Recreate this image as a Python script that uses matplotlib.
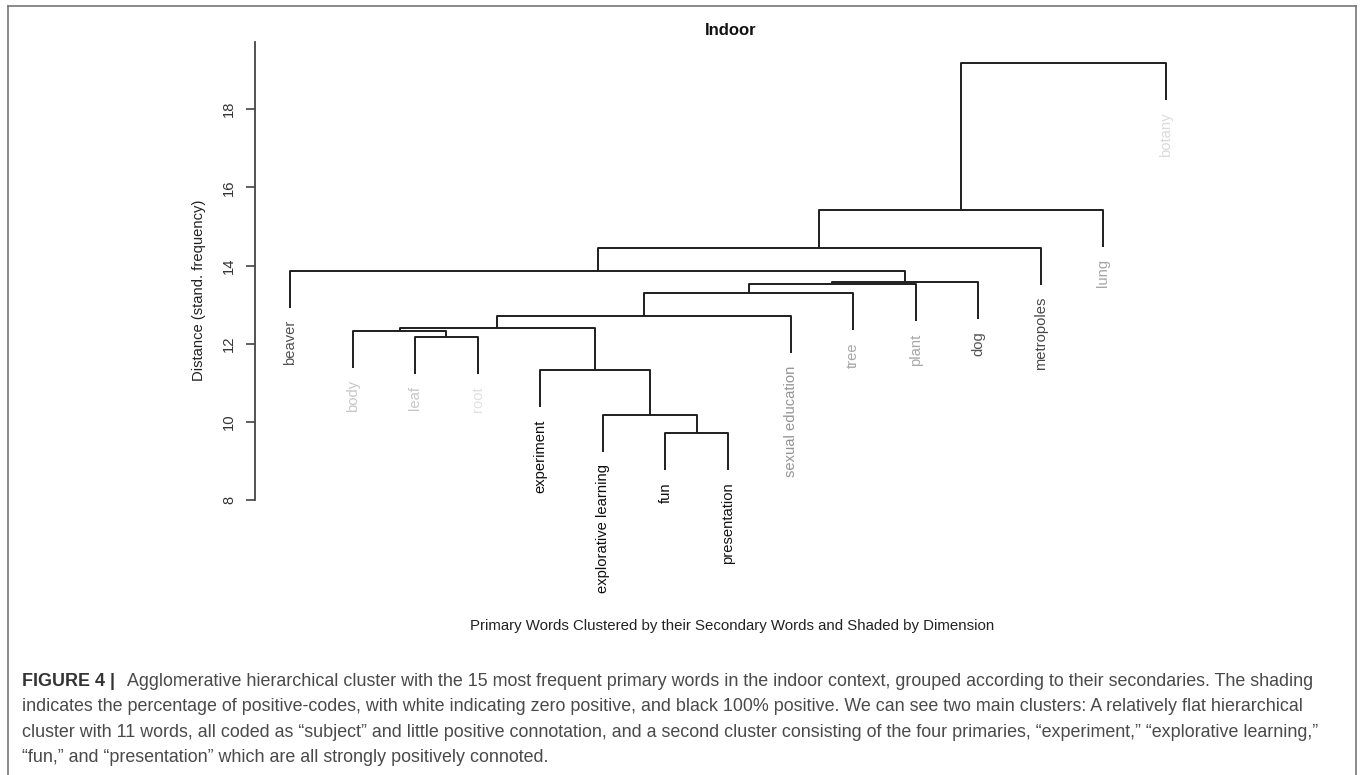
import matplotlib.pyplot as plt
from matplotlib.lines import Line2D

plt.rcParams['font.family'] = ['Liberation Sans', 'DejaVu Sans']

# Leaf words in plotting order
labels = ["beaver", "body", "leaf", "root", "experiment", "explorative learning",
          "fun", "presentation", "sexual education", "tree", "plant", "dog",
          "metropoles", "lung", "botany"]
# share of positive codes per word (0 = white, 1 = black)
positive = [0.68, 0.22, 0.22, 0.12, 0.95, 0.95, 0.95, 0.92,
            0.42, 0.35, 0.35, 0.68, 0.72, 0.35, 0.14]

# merge table, hclust style: negative = leaf number, positive = earlier merge step
merge_left = [-7, -6, -5, -3, -2, 5, 6, 7, 8, 9, -1, 11, 12, 13]
merge_right = [-8, 1, 2, -4, 4, 3, -9, -10, -11, -12, 10, -13, -14, -15]
heights = [9.71, 10.18, 11.32, 12.17, 12.33, 12.41, 12.70, 13.29,
           13.52, 13.57, 13.86, 14.45, 15.43, 19.17]

yticks = [8, 10, 12, 14, 16, 18]

W, H = 1360, 775
fig = plt.figure(figsize=(W / 100, H / 100), dpi=100)


def px(x, y):
    return x / W, 1 - y / H


# plot region in pixels: left 255, right 1201, top 42, bottom 538
ax = fig.add_axes([255 / W, (H - 538) / H, 946 / W, 496 / H])
ax.set_xlim(0.44, 15.56)
ax.set_ylim(7.03, 19.72)

hang = 0.1 * (max(heights) - min(heights))
node_x = []
for k in range(len(heights)):
    h = heights[k]
    xs, ys = [], []
    for c in (merge_left[k], merge_right[k]):
        if c < 0:
            xs.append(-c)
            ys.append(h - hang)
        else:
            xs.append(node_x[c - 1])
            ys.append(heights[c - 1])
    node_x.append((xs[0] + xs[1]) / 2)
    ax.plot([xs[0], xs[0], xs[1], xs[1]], [ys[0], h, h, ys[1]],
            color="#1e1e1e", lw=1.4, solid_capstyle="butt")

# leaf labels shaded by positive share
parent_h = {}
for k in range(len(heights)):
    for c in (merge_left[k], merge_right[k]):
        if c < 0:
            parent_h[-c] = heights[k]
for i, (lab, p) in enumerate(zip(labels, positive)):
    ax.annotate(lab, (i + 1, parent_h[i + 1] - hang), xytext=(0, -12),
                textcoords="offset pixels", rotation=90, ha="center", va="top",
                fontsize=10.6, color=str(round(1 - p, 2)))

for s in ["top", "right", "bottom"]:
    ax.spines[s].set_visible(False)
ax.spines["left"].set_bounds(8, 19.72)
ax.spines["left"].set_color("#444444")
ax.spines["left"].set_linewidth(1.3)
ax.set_xticks([])
ax.set_yticks(yticks)
ax.tick_params(axis="y", length=6.5, width=1.2, color="#444444", pad=7,
               labelrotation=90, labelsize=10.6, labelcolor="#333333")
for t in ax.get_yticklabels():
    t.set_va("center")

fig.text(*px(731, 35), "Indoor", ha="center", va="baseline",
         fontsize=12, fontweight="bold", color="#111111")
fig.text(*px(199, 290), "Distance (stand. frequency)", ha="center", va="center",
         rotation=90, fontsize=10.6, color="#222222")
fig.text(*px(732, 630),
         "Primary Words Clustered by their Secondary Words and Shaded by Dimension",
         ha="center", va="baseline", fontsize=10.85, color="#222222")

# figure caption
cap_kw = dict(fontsize=12.9, color="#4a4a4a", va="baseline", ha="left")
fig.text(*px(22, 685.7), "FIGURE 4 |", fontweight="bold", fontsize=12.9,
         color="#333333", va="baseline", ha="left")
fig.text(*px(127, 685.7),
         "Agglomerative hierarchical cluster with the 15 most frequent primary words "
         "in the indoor context, grouped according to their secondaries. The shading",
         **cap_kw)
fig.text(*px(22, 711.2),
         "indicates the percentage of positive-codes, with white indicating zero positive, "
         "and black 100% positive. We can see two main clusters: A relatively flat hierarchical",
         **cap_kw)
fig.text(*px(22, 736.7),
         "cluster with 11 words, all coded as \u201csubject\u201d and little positive connotation, "
         "and a second cluster consisting of the four primaries, \u201cexperiment,\u201d "
         "\u201cexplorative learning,\u201d",
         **cap_kw)
fig.text(*px(22, 762.2),
         "\u201cfun,\u201d and \u201cpresentation\u201d which are all strongly positively connoted.",
         **cap_kw)

# frame around the figure panel
frame = [([8, 8], [H, 6]), ([8, 1356], [6, 6]), ([1356, 1356], [6, H])]
for xs, ys in frame:
    fig.add_artist(Line2D([x / W for x in xs], [1 - y / H for y in ys],
                          color="#777777", lw=1.2))

fig.savefig("out.png", dpi=100)
